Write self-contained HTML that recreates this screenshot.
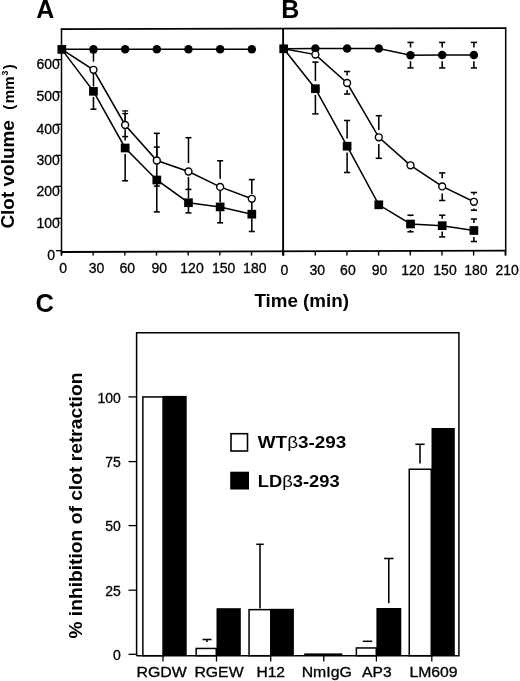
<!DOCTYPE html>
<html><head><meta charset="utf-8"><style>
html,body{margin:0;padding:0;background:#fff;}
body{width:520px;height:681px;overflow:hidden;}
svg{display:block;filter:grayscale(100%);}
text{font-family:"Liberation Sans", sans-serif;}
</style></head><body>
<svg width="520" height="681" viewBox="0 0 520 681" stroke="#000" stroke-linecap="butt">
<line x1="60.7" y1="29.1" x2="506.5" y2="28.2" stroke-width="1.8"/>
<line x1="61.5" y1="28.8" x2="61.5" y2="255.5" stroke-width="1.5"/>
<line x1="283.1" y1="28.8" x2="283.1" y2="255.5" stroke-width="1.9"/>
<line x1="505.7" y1="28.8" x2="505.7" y2="255.5" stroke-width="1.5"/>
<line x1="60.8" y1="252.0" x2="506.4" y2="250.6" stroke-width="1.8"/>
<line x1="56.0" y1="59.6" x2="61.5" y2="59.6" stroke-width="1.3"/>
<line x1="56.0" y1="91.9" x2="61.5" y2="91.9" stroke-width="1.3"/>
<line x1="56.0" y1="124.3" x2="61.5" y2="124.3" stroke-width="1.3"/>
<line x1="56.0" y1="155.4" x2="61.5" y2="155.4" stroke-width="1.3"/>
<line x1="56.0" y1="186.3" x2="61.5" y2="186.3" stroke-width="1.3"/>
<line x1="56.0" y1="218.3" x2="61.5" y2="218.3" stroke-width="1.3"/>
<line x1="56.0" y1="250.7" x2="61.5" y2="250.7" stroke-width="1.3"/>
<line x1="61.5" y1="251.0" x2="61.5" y2="255.6" stroke-width="1.4"/>
<line x1="283.6" y1="251.0" x2="283.6" y2="255.6" stroke-width="1.4"/>
<line x1="93.168" y1="251.0" x2="93.168" y2="255.6" stroke-width="1.4"/>
<line x1="315.26800000000003" y1="251.0" x2="315.26800000000003" y2="255.6" stroke-width="1.4"/>
<line x1="124.83600000000001" y1="251.0" x2="124.83600000000001" y2="255.6" stroke-width="1.4"/>
<line x1="346.93600000000004" y1="251.0" x2="346.93600000000004" y2="255.6" stroke-width="1.4"/>
<line x1="156.50400000000002" y1="251.0" x2="156.50400000000002" y2="255.6" stroke-width="1.4"/>
<line x1="378.60400000000004" y1="251.0" x2="378.60400000000004" y2="255.6" stroke-width="1.4"/>
<line x1="188.17200000000003" y1="251.0" x2="188.17200000000003" y2="255.6" stroke-width="1.4"/>
<line x1="410.27200000000005" y1="251.0" x2="410.27200000000005" y2="255.6" stroke-width="1.4"/>
<line x1="219.84" y1="251.0" x2="219.84" y2="255.6" stroke-width="1.4"/>
<line x1="441.94000000000005" y1="251.0" x2="441.94000000000005" y2="255.6" stroke-width="1.4"/>
<line x1="251.508" y1="251.0" x2="251.508" y2="255.6" stroke-width="1.4"/>
<line x1="473.60800000000006" y1="251.0" x2="473.60800000000006" y2="255.6" stroke-width="1.4"/>
<line x1="283.17600000000004" y1="251.0" x2="283.17600000000004" y2="255.6" stroke-width="1.4"/>
<line x1="505.27600000000007" y1="251.0" x2="505.27600000000007" y2="255.6" stroke-width="1.4"/>
<line x1="93.468" y1="61.7" x2="93.468" y2="52.5" stroke-width="1.55"/>
<line x1="90.468" y1="52.5" x2="96.468" y2="52.5" stroke-width="1.55"/>
<line x1="93.468" y1="73.3" x2="93.468" y2="86.5" stroke-width="1.55"/>
<line x1="93.468" y1="97.0" x2="93.468" y2="109.2" stroke-width="1.55"/>
<line x1="90.468" y1="109.2" x2="96.468" y2="109.2" stroke-width="1.55"/>
<line x1="125.136" y1="121.5" x2="125.136" y2="110.9" stroke-width="1.3"/>
<line x1="122.136" y1="110.9" x2="128.136" y2="110.9" stroke-width="1.3"/>
<line x1="125.136" y1="121.5" x2="125.136" y2="113.6" stroke-width="1.3"/>
<line x1="122.136" y1="113.6" x2="128.136" y2="113.6" stroke-width="1.3"/>
<line x1="125.136" y1="129.3" x2="125.136" y2="136.6" stroke-width="1.55"/>
<line x1="122.136" y1="136.6" x2="128.136" y2="136.6" stroke-width="1.55"/>
<line x1="125.136" y1="136.6" x2="125.136" y2="140.4" stroke-width="1.55"/>
<line x1="125.136" y1="154.0" x2="125.136" y2="180.8" stroke-width="1.55"/>
<line x1="122.136" y1="180.8" x2="128.136" y2="180.8" stroke-width="1.55"/>
<line x1="156.804" y1="157" x2="156.804" y2="133.3" stroke-width="1.55"/>
<line x1="153.804" y1="133.3" x2="159.804" y2="133.3" stroke-width="1.55"/>
<line x1="156.804" y1="157" x2="156.804" y2="147.1" stroke-width="1.55"/>
<line x1="153.804" y1="147.1" x2="159.804" y2="147.1" stroke-width="1.55"/>
<line x1="156.804" y1="164.3" x2="156.804" y2="176.2" stroke-width="1.55"/>
<line x1="156.804" y1="184" x2="156.804" y2="186.1" stroke-width="1.55"/>
<line x1="153.804" y1="186.1" x2="159.804" y2="186.1" stroke-width="1.55"/>
<line x1="156.804" y1="184" x2="156.804" y2="211.9" stroke-width="1.55"/>
<line x1="153.804" y1="211.9" x2="159.804" y2="211.9" stroke-width="1.55"/>
<line x1="188.472" y1="163" x2="188.472" y2="137.7" stroke-width="1.55"/>
<line x1="185.472" y1="137.7" x2="191.472" y2="137.7" stroke-width="1.55"/>
<line x1="188.472" y1="176.9" x2="188.472" y2="189.4" stroke-width="1.55"/>
<line x1="185.472" y1="189.4" x2="191.472" y2="189.4" stroke-width="1.55"/>
<line x1="188.472" y1="189.4" x2="188.472" y2="198" stroke-width="1.55"/>
<line x1="188.472" y1="206.5" x2="188.472" y2="212.9" stroke-width="1.55"/>
<line x1="185.472" y1="212.9" x2="191.472" y2="212.9" stroke-width="1.55"/>
<line x1="220.14" y1="178.8" x2="220.14" y2="160.8" stroke-width="1.55"/>
<line x1="217.14" y1="160.8" x2="223.14" y2="160.8" stroke-width="1.55"/>
<line x1="220.14" y1="191" x2="220.14" y2="202.3" stroke-width="1.55"/>
<line x1="220.14" y1="211" x2="220.14" y2="222.8" stroke-width="1.55"/>
<line x1="217.14" y1="222.8" x2="223.14" y2="222.8" stroke-width="1.55"/>
<line x1="251.808" y1="194" x2="251.808" y2="179.6" stroke-width="1.55"/>
<line x1="248.808" y1="179.6" x2="254.808" y2="179.6" stroke-width="1.55"/>
<line x1="251.808" y1="203" x2="251.808" y2="210" stroke-width="1.55"/>
<line x1="251.808" y1="218.5" x2="251.808" y2="231.5" stroke-width="1.55"/>
<line x1="248.808" y1="231.5" x2="254.808" y2="231.5" stroke-width="1.55"/>
<polyline fill="none" stroke-width="1.55" points="61.8,49.2 93.468,49.2 125.136,49.2 156.804,49.2 188.472,49.2 220.14,49.2 251.808,49.2"/>
<polyline fill="none" stroke-width="1.55" points="61.8,49.4 93.468,69.8 125.136,125.0 156.804,160.5 188.472,171.5 220.14,186.9 251.808,198.8"/>
<polyline fill="none" stroke-width="1.55" points="61.8,49.4 93.468,91.3 125.136,148.0 156.804,180.0 188.472,202.7 220.14,206.9 251.808,214.2"/>
<circle cx="93.468" cy="49.2" r="4.25" fill="#000" stroke="none"/>
<circle cx="125.136" cy="49.2" r="4.25" fill="#000" stroke="none"/>
<circle cx="156.804" cy="49.2" r="4.25" fill="#000" stroke="none"/>
<circle cx="188.472" cy="49.2" r="4.25" fill="#000" stroke="none"/>
<circle cx="220.14" cy="49.2" r="4.25" fill="#000" stroke="none"/>
<circle cx="251.808" cy="49.2" r="4.25" fill="#000" stroke="none"/>
<circle cx="93.468" cy="69.8" r="3.45" fill="#fff" stroke-width="1.4"/>
<circle cx="125.136" cy="125.0" r="3.45" fill="#fff" stroke-width="1.4"/>
<circle cx="156.804" cy="160.5" r="3.45" fill="#fff" stroke-width="1.4"/>
<circle cx="188.472" cy="171.5" r="3.45" fill="#fff" stroke-width="1.4"/>
<circle cx="220.14" cy="186.9" r="3.45" fill="#fff" stroke-width="1.4"/>
<circle cx="251.808" cy="198.8" r="3.45" fill="#fff" stroke-width="1.4"/>
<rect x="57.449999999999996" y="45.05" width="8.7" height="8.7" fill="#000" stroke="none"/>
<rect x="89.11800000000001" y="86.95" width="8.7" height="8.7" fill="#000" stroke="none"/>
<rect x="120.786" y="143.65" width="8.7" height="8.7" fill="#000" stroke="none"/>
<rect x="152.454" y="175.65" width="8.7" height="8.7" fill="#000" stroke="none"/>
<rect x="184.122" y="198.35" width="8.7" height="8.7" fill="#000" stroke="none"/>
<rect x="215.79" y="202.55" width="8.7" height="8.7" fill="#000" stroke="none"/>
<rect x="247.458" y="209.85" width="8.7" height="8.7" fill="#000" stroke="none"/>
<line x1="410.504" y1="47.5" x2="410.504" y2="42.4" stroke-width="1.55"/>
<line x1="407.404" y1="42.4" x2="413.60400000000004" y2="42.4" stroke-width="1.55"/>
<line x1="410.504" y1="61.2" x2="410.504" y2="67.9" stroke-width="1.55"/>
<line x1="407.404" y1="67.9" x2="413.60400000000004" y2="67.9" stroke-width="1.55"/>
<line x1="442.205" y1="47.5" x2="442.205" y2="42.4" stroke-width="1.55"/>
<line x1="439.10499999999996" y1="42.4" x2="445.305" y2="42.4" stroke-width="1.55"/>
<line x1="442.205" y1="61.2" x2="442.205" y2="67.9" stroke-width="1.55"/>
<line x1="439.10499999999996" y1="67.9" x2="445.305" y2="67.9" stroke-width="1.55"/>
<line x1="473.90599999999995" y1="47.5" x2="473.90599999999995" y2="42.4" stroke-width="1.55"/>
<line x1="470.8059999999999" y1="42.4" x2="477.006" y2="42.4" stroke-width="1.55"/>
<line x1="473.90599999999995" y1="61.2" x2="473.90599999999995" y2="67.9" stroke-width="1.55"/>
<line x1="470.8059999999999" y1="67.9" x2="477.006" y2="67.9" stroke-width="1.55"/>
<line x1="347.102" y1="75.4" x2="347.102" y2="71.5" stroke-width="1.55"/>
<line x1="344.00199999999995" y1="71.5" x2="350.202" y2="71.5" stroke-width="1.55"/>
<line x1="347.102" y1="89.9" x2="347.102" y2="94.0" stroke-width="1.55"/>
<line x1="344.00199999999995" y1="94.0" x2="350.202" y2="94.0" stroke-width="1.55"/>
<line x1="378.803" y1="129.9" x2="378.803" y2="115.7" stroke-width="1.55"/>
<line x1="375.703" y1="115.7" x2="381.903" y2="115.7" stroke-width="1.55"/>
<line x1="378.803" y1="144.0" x2="378.803" y2="158.3" stroke-width="1.55"/>
<line x1="375.703" y1="158.3" x2="381.903" y2="158.3" stroke-width="1.55"/>
<line x1="442.205" y1="178.2" x2="442.205" y2="172.9" stroke-width="1.55"/>
<line x1="439.10499999999996" y1="172.9" x2="445.305" y2="172.9" stroke-width="1.55"/>
<line x1="442.205" y1="193.5" x2="442.205" y2="200.5" stroke-width="1.55"/>
<line x1="439.10499999999996" y1="200.5" x2="445.305" y2="200.5" stroke-width="1.55"/>
<line x1="473.90599999999995" y1="194.7" x2="473.90599999999995" y2="192.5" stroke-width="1.55"/>
<line x1="470.8059999999999" y1="192.5" x2="477.006" y2="192.5" stroke-width="1.55"/>
<line x1="473.90599999999995" y1="208.4" x2="473.90599999999995" y2="210.2" stroke-width="1.55"/>
<line x1="470.8059999999999" y1="210.2" x2="477.006" y2="210.2" stroke-width="1.55"/>
<line x1="315.401" y1="80.9" x2="315.401" y2="62.1" stroke-width="1.55"/>
<line x1="312.301" y1="62.1" x2="318.50100000000003" y2="62.1" stroke-width="1.55"/>
<line x1="315.401" y1="95.0" x2="315.401" y2="113.9" stroke-width="1.55"/>
<line x1="312.301" y1="113.9" x2="318.50100000000003" y2="113.9" stroke-width="1.55"/>
<line x1="347.102" y1="138.5" x2="347.102" y2="120.5" stroke-width="1.55"/>
<line x1="344.00199999999995" y1="120.5" x2="350.202" y2="120.5" stroke-width="1.55"/>
<line x1="347.102" y1="152.5" x2="347.102" y2="172.5" stroke-width="1.55"/>
<line x1="344.00199999999995" y1="172.5" x2="350.202" y2="172.5" stroke-width="1.55"/>
<line x1="410.504" y1="216.2" x2="410.504" y2="215.2" stroke-width="1.55"/>
<line x1="407.404" y1="215.2" x2="413.60400000000004" y2="215.2" stroke-width="1.55"/>
<line x1="410.504" y1="230.0" x2="410.504" y2="231.8" stroke-width="1.55"/>
<line x1="407.404" y1="231.8" x2="413.60400000000004" y2="231.8" stroke-width="1.55"/>
<line x1="442.205" y1="218.7" x2="442.205" y2="215.2" stroke-width="1.55"/>
<line x1="439.10499999999996" y1="215.2" x2="445.305" y2="215.2" stroke-width="1.55"/>
<line x1="442.205" y1="231.6" x2="442.205" y2="236.9" stroke-width="1.55"/>
<line x1="439.10499999999996" y1="236.9" x2="445.305" y2="236.9" stroke-width="1.55"/>
<line x1="473.90599999999995" y1="223.0" x2="473.90599999999995" y2="219.0" stroke-width="1.55"/>
<line x1="470.8059999999999" y1="219.0" x2="477.006" y2="219.0" stroke-width="1.55"/>
<line x1="473.90599999999995" y1="237.0" x2="473.90599999999995" y2="241.5" stroke-width="1.55"/>
<line x1="470.8059999999999" y1="241.5" x2="477.006" y2="241.5" stroke-width="1.55"/>
<polyline fill="none" stroke-width="1.55" points="283.7,48.8 315.401,48.5 347.102,48.5 378.803,48.5 410.504,55.3 442.205,55.1 473.90599999999995,55.0"/>
<polyline fill="none" stroke-width="1.55" points="283.7,48.8 315.401,54.6 347.102,83.0 378.803,137.3 410.504,165.3 442.205,186.4 473.90599999999995,201.8"/>
<polyline fill="none" stroke-width="1.55" points="283.7,48.8 315.401,88.7 347.102,146.2 378.803,204.8 410.504,224.0 442.205,225.7 473.90599999999995,230.5"/>
<circle cx="315.401" cy="48.5" r="4.25" fill="#000" stroke="none"/>
<circle cx="347.102" cy="48.5" r="4.25" fill="#000" stroke="none"/>
<circle cx="378.803" cy="48.5" r="4.25" fill="#000" stroke="none"/>
<circle cx="410.504" cy="55.3" r="4.25" fill="#000" stroke="none"/>
<circle cx="442.205" cy="55.1" r="4.25" fill="#000" stroke="none"/>
<circle cx="473.90599999999995" cy="55.0" r="4.25" fill="#000" stroke="none"/>
<circle cx="315.401" cy="54.6" r="3.45" fill="#fff" stroke-width="1.4"/>
<circle cx="347.102" cy="83.0" r="3.45" fill="#fff" stroke-width="1.4"/>
<circle cx="378.803" cy="137.3" r="3.45" fill="#fff" stroke-width="1.4"/>
<circle cx="410.504" cy="165.3" r="3.45" fill="#fff" stroke-width="1.4"/>
<circle cx="442.205" cy="186.4" r="3.45" fill="#fff" stroke-width="1.4"/>
<circle cx="473.90599999999995" cy="201.8" r="3.45" fill="#fff" stroke-width="1.4"/>
<rect x="279.34999999999997" y="44.449999999999996" width="8.7" height="8.7" fill="#000" stroke="none"/>
<rect x="311.051" y="84.35000000000001" width="8.7" height="8.7" fill="#000" stroke="none"/>
<rect x="342.75199999999995" y="141.85" width="8.7" height="8.7" fill="#000" stroke="none"/>
<rect x="374.453" y="200.45000000000002" width="8.7" height="8.7" fill="#000" stroke="none"/>
<rect x="406.154" y="219.65" width="8.7" height="8.7" fill="#000" stroke="none"/>
<rect x="437.85499999999996" y="221.35" width="8.7" height="8.7" fill="#000" stroke="none"/>
<rect x="469.5559999999999" y="226.15" width="8.7" height="8.7" fill="#000" stroke="none"/>
<g font-family="Liberation Sans" fill="#000" stroke="none">
<text x="36.2" y="18.2" font-size="25" font-weight="bold" text-anchor="start" >A</text>
<text x="281.2" y="17.8" font-size="25" font-weight="bold" text-anchor="start" >B</text>
<text x="35.6" y="311.5" font-size="25.5" font-weight="bold" text-anchor="start" >C</text>
<text x="59.9" y="68.7" font-size="14" font-weight="normal" text-anchor="end" stroke="#000" stroke-width="0.3" >600</text>
<text x="59.9" y="101.2" font-size="14" font-weight="normal" text-anchor="end" stroke="#000" stroke-width="0.3" >500</text>
<text x="59.9" y="133.6" font-size="14" font-weight="normal" text-anchor="end" stroke="#000" stroke-width="0.3" >400</text>
<text x="59.9" y="164.5" font-size="14" font-weight="normal" text-anchor="end" stroke="#000" stroke-width="0.3" >300</text>
<text x="59.9" y="195.5" font-size="14" font-weight="normal" text-anchor="end" stroke="#000" stroke-width="0.3" >200</text>
<text x="59.9" y="227.6" font-size="14" font-weight="normal" text-anchor="end" stroke="#000" stroke-width="0.3" >100</text>
<text x="55.1" y="259.5" font-size="14" font-weight="normal" text-anchor="end" stroke="#000" stroke-width="0.3" >0</text>
<text x="63.2" y="272.8" font-size="14" font-weight="normal" text-anchor="middle" stroke="#000" stroke-width="0.3" >0</text>
<text x="96.6" y="272.8" font-size="14" font-weight="normal" text-anchor="middle" stroke="#000" stroke-width="0.3" >30</text>
<text x="127.2" y="272.8" font-size="14" font-weight="normal" text-anchor="middle" stroke="#000" stroke-width="0.3" >60</text>
<text x="159.3" y="272.8" font-size="14" font-weight="normal" text-anchor="middle" stroke="#000" stroke-width="0.3" >90</text>
<text x="192" y="272.8" font-size="14" font-weight="normal" text-anchor="middle" stroke="#000" stroke-width="0.3" >120</text>
<text x="223.7" y="272.8" font-size="14" font-weight="normal" text-anchor="middle" stroke="#000" stroke-width="0.3" >150</text>
<text x="254.8" y="272.8" font-size="14" font-weight="normal" text-anchor="middle" stroke="#000" stroke-width="0.3" >180</text>
<text x="284.3" y="275.0" font-size="14" font-weight="normal" text-anchor="middle" stroke="#000" stroke-width="0.3" >0</text>
<text x="317.2" y="275.0" font-size="14" font-weight="normal" text-anchor="middle" stroke="#000" stroke-width="0.3" >30</text>
<text x="347.9" y="275.0" font-size="14" font-weight="normal" text-anchor="middle" stroke="#000" stroke-width="0.3" >60</text>
<text x="379.5" y="275.0" font-size="14" font-weight="normal" text-anchor="middle" stroke="#000" stroke-width="0.3" >90</text>
<text x="412.9" y="275.0" font-size="14" font-weight="normal" text-anchor="middle" stroke="#000" stroke-width="0.3" >120</text>
<text x="445" y="275.0" font-size="14" font-weight="normal" text-anchor="middle" stroke="#000" stroke-width="0.3" >150</text>
<text x="475.9" y="275.0" font-size="14" font-weight="normal" text-anchor="middle" stroke="#000" stroke-width="0.3" >180</text>
<text x="507.2" y="275.0" font-size="14" font-weight="normal" text-anchor="middle" stroke="#000" stroke-width="0.3" >210</text>
<text transform="translate(14.0,228.6) rotate(-90)" font-size="18.4" font-weight="bold" textLength="108.5" lengthAdjust="spacingAndGlyphs">Clot volume</text>
<text transform="translate(14.0,109.7) rotate(-90)" font-size="15" font-weight="bold">(</text>
<text transform="translate(14.0,103.2) rotate(-90)" font-size="15" font-weight="bold">mm</text>
<text transform="translate(8.2,75.4) rotate(-90)" font-size="8.8" font-weight="bold">3</text>
<text transform="translate(14.0,69.3) rotate(-90)" font-size="15" font-weight="bold">)</text>
<text x="254.4" y="306.9" font-size="18.8" font-weight="bold" text-anchor="start" >Time (min)</text>
<text transform="translate(82.0,638.6) rotate(-90)" font-size="19.1" font-weight="bold" textLength="266" lengthAdjust="spacingAndGlyphs">% inhibition of clot retraction</text>
</g>
<line x1="136.6" y1="332.8" x2="136.6" y2="655.7" stroke-width="1.5"/>
<line x1="135.9" y1="332.8" x2="459.59999999999997" y2="332.8" stroke-width="1.5"/>
<line x1="458.9" y1="332.8" x2="458.9" y2="655.7" stroke-width="1.5"/>
<line x1="136.6" y1="655.7" x2="459.59999999999997" y2="655.7" stroke-width="1.6"/>
<line x1="128.5" y1="396.9" x2="136.6" y2="396.9" stroke-width="1.3"/>
<line x1="128.5" y1="461.6" x2="136.6" y2="461.6" stroke-width="1.3"/>
<line x1="128.5" y1="525.6" x2="136.6" y2="525.6" stroke-width="1.3"/>
<line x1="128.5" y1="590.2" x2="136.6" y2="590.2" stroke-width="1.3"/>
<line x1="128.5" y1="654.3" x2="136.6" y2="654.3" stroke-width="1.3"/>
<line x1="163.0" y1="655.7" x2="163.0" y2="661.5" stroke-width="1.3"/>
<line x1="216.5" y1="655.7" x2="216.5" y2="661.5" stroke-width="1.3"/>
<line x1="270.7" y1="655.7" x2="270.7" y2="661.5" stroke-width="1.3"/>
<line x1="323.8" y1="655.7" x2="323.8" y2="661.5" stroke-width="1.3"/>
<line x1="376.4" y1="655.7" x2="376.4" y2="661.5" stroke-width="1.3"/>
<line x1="431.8" y1="655.7" x2="431.8" y2="661.5" stroke-width="1.3"/>
<rect x="142.85" y="396.95" width="20.200000000000017" height="258.75000000000006" fill="#fff" stroke-width="1.5"/>
<rect x="163" y="395.9" width="23.69999999999999" height="259.80000000000007" fill="#000" stroke="none"/>
<rect x="196.15" y="648.45" width="20.099999999999994" height="7.25" fill="#fff" stroke-width="1.5"/>
<rect x="216.5" y="608.2" width="24.30000000000001" height="47.5" fill="#000" stroke="none"/>
<rect x="249.05" y="609.65" width="21.69999999999999" height="46.05000000000007" fill="#fff" stroke-width="1.5"/>
<rect x="270.7" y="608.8" width="23.19999999999999" height="46.90000000000009" fill="#000" stroke="none"/>
<rect x="304.2" y="653.4" width="38.10000000000002" height="2.300000000000068" fill="#000" stroke="none"/>
<rect x="356.35" y="647.95" width="19.899999999999977" height="7.75" fill="#fff" stroke-width="1.5"/>
<rect x="376.4" y="608.0" width="24.900000000000034" height="47.700000000000045" fill="#000" stroke="none"/>
<rect x="409.25" y="469.25" width="22.0" height="186.45000000000005" fill="#fff" stroke-width="1.5"/>
<rect x="431.5" y="428.0" width="23.30000000000001" height="227.70000000000005" fill="#000" stroke="none"/>
<line x1="207" y1="642" x2="207" y2="639.5" stroke-width="1.55"/>
<line x1="202.5" y1="639.5" x2="211.5" y2="639.5" stroke-width="1.55"/>
<line x1="260" y1="608.5" x2="260" y2="544.3" stroke-width="1.55"/>
<line x1="256.25" y1="544.3" x2="263.75" y2="544.3" stroke-width="1.55"/>
<line x1="367.5" y1="641.9" x2="367.5" y2="641.3" stroke-width="1.55"/>
<line x1="362.75" y1="641.3" x2="372.25" y2="641.3" stroke-width="1.55"/>
<line x1="388.8" y1="603.2" x2="388.8" y2="558.5" stroke-width="1.55"/>
<line x1="384.05" y1="558.5" x2="393.55" y2="558.5" stroke-width="1.55"/>
<line x1="420" y1="463.5" x2="420" y2="444.3" stroke-width="1.55"/>
<line x1="415.4" y1="444.3" x2="424.6" y2="444.3" stroke-width="1.55"/>
<rect x="231" y="433.7" width="16.5" height="17.3" fill="#fff" stroke-width="1.6"/>
<rect x="230.2" y="471.7" width="18.8" height="17.8" fill="#000" stroke="none"/>
<g font-family="Liberation Sans" fill="#000" stroke="none">
<text x="120.9" y="402.59999999999997" font-size="14" font-weight="normal" text-anchor="end" stroke="#000" stroke-width="0.3" >100</text>
<text x="120.9" y="467.3" font-size="14" font-weight="normal" text-anchor="end" stroke="#000" stroke-width="0.3" >75</text>
<text x="120.9" y="531.3000000000001" font-size="14" font-weight="normal" text-anchor="end" stroke="#000" stroke-width="0.3" >50</text>
<text x="120.9" y="595.9000000000001" font-size="14" font-weight="normal" text-anchor="end" stroke="#000" stroke-width="0.3" >25</text>
<text x="120.9" y="660.0" font-size="14" font-weight="normal" text-anchor="end" stroke="#000" stroke-width="0.3" >0</text>
<text x="161.65" y="677.2" font-size="14" text-anchor="middle" textLength="50.300000000000004" lengthAdjust="spacingAndGlyphs" stroke="#000" stroke-width="0.3">RGDW</text>
<text x="219" y="677.2" font-size="14" text-anchor="middle" textLength="49.2" lengthAdjust="spacingAndGlyphs" stroke="#000" stroke-width="0.3">RGEW</text>
<text x="270.7" y="677.2" font-size="14" text-anchor="middle" textLength="28.599999999999998" lengthAdjust="spacingAndGlyphs" stroke="#000" stroke-width="0.3">H12</text>
<text x="326.75" y="677.2" font-size="14" text-anchor="middle" textLength="50.1" lengthAdjust="spacingAndGlyphs" stroke="#000" stroke-width="0.3">NmIgG</text>
<text x="376.85" y="677.2" font-size="14" text-anchor="middle" textLength="29.5" lengthAdjust="spacingAndGlyphs" stroke="#000" stroke-width="0.3">AP3</text>
<text x="433.5" y="677.2" font-size="14" text-anchor="middle" textLength="48.2" lengthAdjust="spacingAndGlyphs" stroke="#000" stroke-width="0.3">LM609</text>
<text x="257.8" y="448.3" font-size="17" font-weight="bold" textLength="88.5" lengthAdjust="spacingAndGlyphs">WT<tspan font-weight="normal">β</tspan>3-293</text>
<text x="257.8" y="486.7" font-size="17" font-weight="bold" textLength="81.8" lengthAdjust="spacingAndGlyphs">LD<tspan font-weight="normal">β</tspan>3-293</text>
</g>
</svg>
</body></html>
